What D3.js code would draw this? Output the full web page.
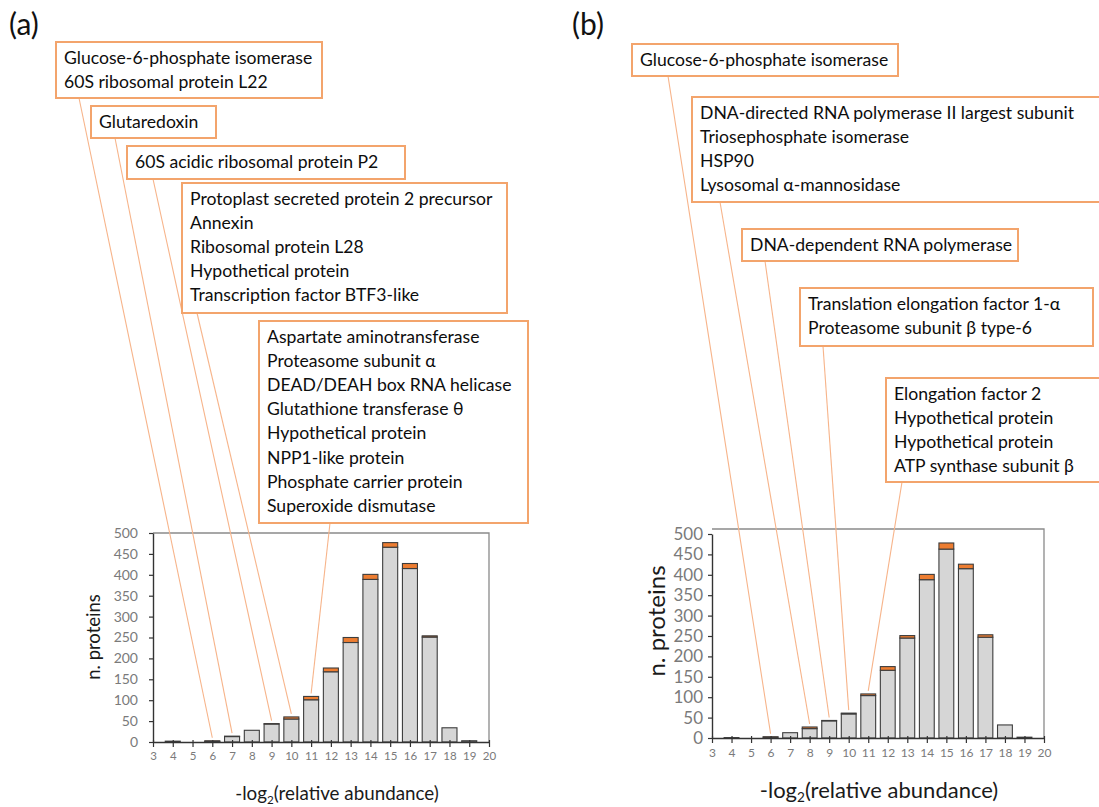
<!DOCTYPE html>
<html>
<head>
<meta charset="utf-8">
<script src="https://cdn.jsdelivr.net/npm/d3@7"></script>
<style>
  html, body { margin: 0; padding: 0; background: #fff; }
  svg { display: block; font-family: Lato, "Open Sans", sans-serif; }
</style>
</head>
<body>
<svg id="fig" width="1099" height="807"></svg>
<script>
// Histogram bins: -log2(relative abundance)
const bins = [3, 4, 5, 6, 7, 8, 9, 10, 11, 12, 13, 14, 15, 16, 17, 18, 19, 20];
const yTicks = [0, 50, 100, 150, 200, 250, 300, 350, 400, 450, 500];

// Panel (a): protein counts per bin, split into other proteins and highlighted proteins
const countsA_other = [0, 2, 0, 1, 13, 28, 43, 55, 101, 168, 238, 389, 466, 415, 251, 34, 3, 0];
const countsA_highlighted = [0, 0, 0, 2, 1, 0, 1, 5, 8, 9, 12, 12, 11, 12, 3, 0, 0, 0];

// Panel (b)
const countsB_other = [0, 1, 0, 2, 13, 23, 42, 59, 104, 166, 245, 388, 463, 415, 247, 32, 2, 0];
const countsB_highlighted = [0, 0, 0, 1, 0, 4, 1, 2, 4, 9, 6, 13, 15, 11, 6, 0, 0, 0];

// Annotated proteins and the bin each group belongs to
const calloutBinsA = [6, 7, 9, 10, 11];
const calloutTextA = [
  ["Glucose-6-phosphate isomerase", "60S ribosomal protein L22"],
  ["Glutaredoxin"],
  ["60S acidic ribosomal protein P2"],
  ["Protoplast secreted protein 2 precursor", "Annexin", "Ribosomal protein L28",
   "Hypothetical protein", "Transcription factor BTF3-like"],
  ["Aspartate aminotransferase", "Proteasome subunit \u03b1", "DEAD/DEAH box RNA helicase",
   "Glutathione transferase \u03b8", "Hypothetical protein", "NPP1-like protein",
   "Phosphate carrier protein", "Superoxide dismutase"]
];

const calloutBinsB = [6, 8, 9, 10, 11];
const calloutTextB = [
  ["Glucose-6-phosphate isomerase"],
  ["DNA-directed RNA polymerase II largest subunit", "Triosephosphate isomerase",
   "HSP90", "Lysosomal \u03b1-mannosidase"],
  ["DNA-dependent RNA polymerase"],
  ["Translation elongation factor 1-\u03b1", "Proteasome subunit \u03b2 type-6"],
  ["Elongation factor 2", "Hypothetical protein", "Hypothetical protein",
   "ATP synthase subunit \u03b2"]
];

// ---- layout ----
const panels = [
  {
    tag: "(a)", tagX: 9,
    other: countsA_other, hi: countsA_highlighted,
    calloutBins: calloutBinsA, calloutText: calloutTextA,
    x0: 153, x1: 489, yTop: 533, yBot: 742, frameTop: 533,
    yTickFont: 14, yTickPad: 11, yTitleFont: 18.5, yTitleX: 93, yTitleY: 637,
    xTickFont: 11.5, xTitleFont: 18.8, xTitleX: 337, xTitleY: 800,
    boxes: [
      { x: 56, y: 42, w: 266, h: 56, ax: 23 },
      { x: 91, y: 106, w: 125, h: 32, ax: 24 },
      { x: 127, y: 146, w: 278, h: 33, ax: 26 },
      { x: 182, y: 183, w: 325, h: 130, ax: 15 },
      { x: 259, y: 321, w: 269, h: 202, ax: 71 }
    ]
  },
  {
    tag: "(b)", tagX: 572,
    other: countsB_other, hi: countsB_highlighted,
    calloutBins: calloutBinsB, calloutText: calloutTextB,
    x0: 712, x1: 1044, yTop: 534, yBot: 738, frameTop: 529,
    yTickFont: 17, yTickPad: 5, yTitleFont: 24, yTitleX: 655, yTitleY: 621,
    xTickFont: 12, xTitleFont: 22, xTitleX: 879, xTitleY: 798,
    boxes: [
      { x: 632, y: 44, w: 266, h: 32, ax: 36 },
      { x: 692, y: 97, w: 420, h: 105, ax: 28 },
      { x: 742, y: 229, w: 276, h: 32, ax: 23 },
      { x: 800, y: 288, w: 293, h: 58, ax: 23 },
      { x: 886, y: 378, w: 230, h: 104, ax: 16 }
    ]
  }
];

const svg = d3.select("#fig");
svg.append("rect").attr("width", 1099).attr("height", 807).attr("fill", "#fff");

const BOX_STROKE = "#f3a46c";
const LEADER = "#f7b48a";
const GREY_FILL = "#d6d6d6";
const ORANGE_FILL = "#ed7d31";
const BAR_EDGE = "#3d3d3d";

panels.forEach(p => {
  const g = svg.append("g");
  const x = d3.scaleLinear().domain([3, 20]).range([p.x0, p.x1]);
  const y = d3.scaleLinear().domain([0, 500]).range([p.yBot, p.yTop]);
  const bw = 0.76 * (x(4) - x(3));

  // panel tag
  g.append("text").attr("x", p.tagX).attr("y", 35)
    .attr("font-size", 30).attr("fill", "#111").text(p.tag);

  // plot frame (top and right edges)
  g.append("path")
    .attr("d", `M${p.x0},${p.frameTop}H${p.x1}V${p.yBot}`)
    .attr("fill", "none").attr("stroke", "#8a8a8a").attr("stroke-width", 1.3);

  // stacked bars
  const rows = bins.map((b, i) => ({ bin: b, other: p.other[i], hi: p.hi[i] }))
    .filter(d => d.other + d.hi > 0);
  const bars = g.append("g");
  bars.selectAll("rect.other").data(rows).join("rect")
    .attr("class", "other")
    .attr("x", d => x(d.bin) - bw / 2).attr("width", bw)
    .attr("y", d => y(d.other)).attr("height", d => y(0) - y(d.other))
    .attr("fill", GREY_FILL).attr("stroke", BAR_EDGE).attr("stroke-width", 1.1);
  bars.selectAll("rect.hi").data(rows.filter(d => d.hi > 0)).join("rect")
    .attr("class", "hi")
    .attr("x", d => x(d.bin) - bw / 2).attr("width", bw)
    .attr("y", d => y(d.other + d.hi)).attr("height", d => y(d.other) - y(d.other + d.hi))
    .attr("fill", ORANGE_FILL).attr("stroke", BAR_EDGE).attr("stroke-width", 1.1);

  // y axis
  const ya = g.append("g").attr("transform", `translate(${p.x0},0)`)
    .call(d3.axisLeft(y).tickValues(yTicks).tickSize(4).tickPadding(p.yTickPad).tickSizeOuter(0));
  ya.select(".domain").attr("stroke", "#333").attr("stroke-width", 1.4);
  ya.selectAll(".tick line").attr("stroke", "#333").attr("stroke-width", 1.2);
  ya.selectAll(".tick text").attr("font-size", p.yTickFont).attr("fill", "#7a7a7a")
    .attr("font-family", "Lato, sans-serif");

  // x axis
  const xa = g.append("g").attr("transform", `translate(0,${p.yBot})`)
    .call(d3.axisBottom(x).tickValues(bins).tickSize(5).tickPadding(5).tickSizeOuter(0));
  xa.select(".domain").attr("stroke", "#333").attr("stroke-width", 1.4);
  xa.selectAll(".tick line").attr("stroke", "#333").attr("stroke-width", 1.2).attr("y1", -2);
  xa.selectAll(".tick text").attr("font-size", p.xTickFont).attr("fill", "#7a7a7a")
    .attr("font-family", "Lato, sans-serif");

  // axis titles
  g.append("text")
    .attr("transform", `translate(${p.yTitleX},${p.yTitleY}) rotate(-90)`)
    .attr("text-anchor", "middle").attr("dominant-baseline", "central")
    .attr("font-size", p.yTitleFont).attr("fill", "#1a1a1a").text("n. proteins");
  const xt = g.append("text").attr("x", p.xTitleX).attr("y", p.xTitleY)
    .attr("text-anchor", "middle").attr("font-size", p.xTitleFont).attr("fill", "#1a1a1a");
  xt.append("tspan").text("-log");
  xt.append("tspan").attr("font-size", p.xTitleFont * 0.62).attr("dy", 4).text("2");
  xt.append("tspan").attr("dy", -4).text("(relative abundance)");

  // leader lines from each callout box to the top of its bar
  p.calloutBins.forEach((b, i) => {
    const box = p.boxes[i];
    const k = bins.indexOf(b);
    const total = p.other[k] + p.hi[k];
    g.append("line")
      .attr("x1", box.x + box.ax).attr("y1", box.y + box.h)
      .attr("x2", x(b)).attr("y2", y(total) - 3)
      .attr("stroke", LEADER).attr("stroke-width", 1.1);
  });

  // callout boxes
  p.calloutText.forEach((lines, i) => {
    const box = p.boxes[i];
    g.append("rect").attr("x", box.x).attr("y", box.y)
      .attr("width", box.w).attr("height", box.h)
      .attr("fill", "#fff").attr("stroke", BOX_STROKE).attr("stroke-width", 2);
    const t = g.append("text").attr("font-size", 17.6).attr("fill", "#0d0d0d");
    lines.forEach((s, j) => {
      t.append("tspan").attr("x", box.x + 8).attr("y", box.y + 22 + j * 24.1).text(s);
    });
  });
});
</script>
</body>
</html>
